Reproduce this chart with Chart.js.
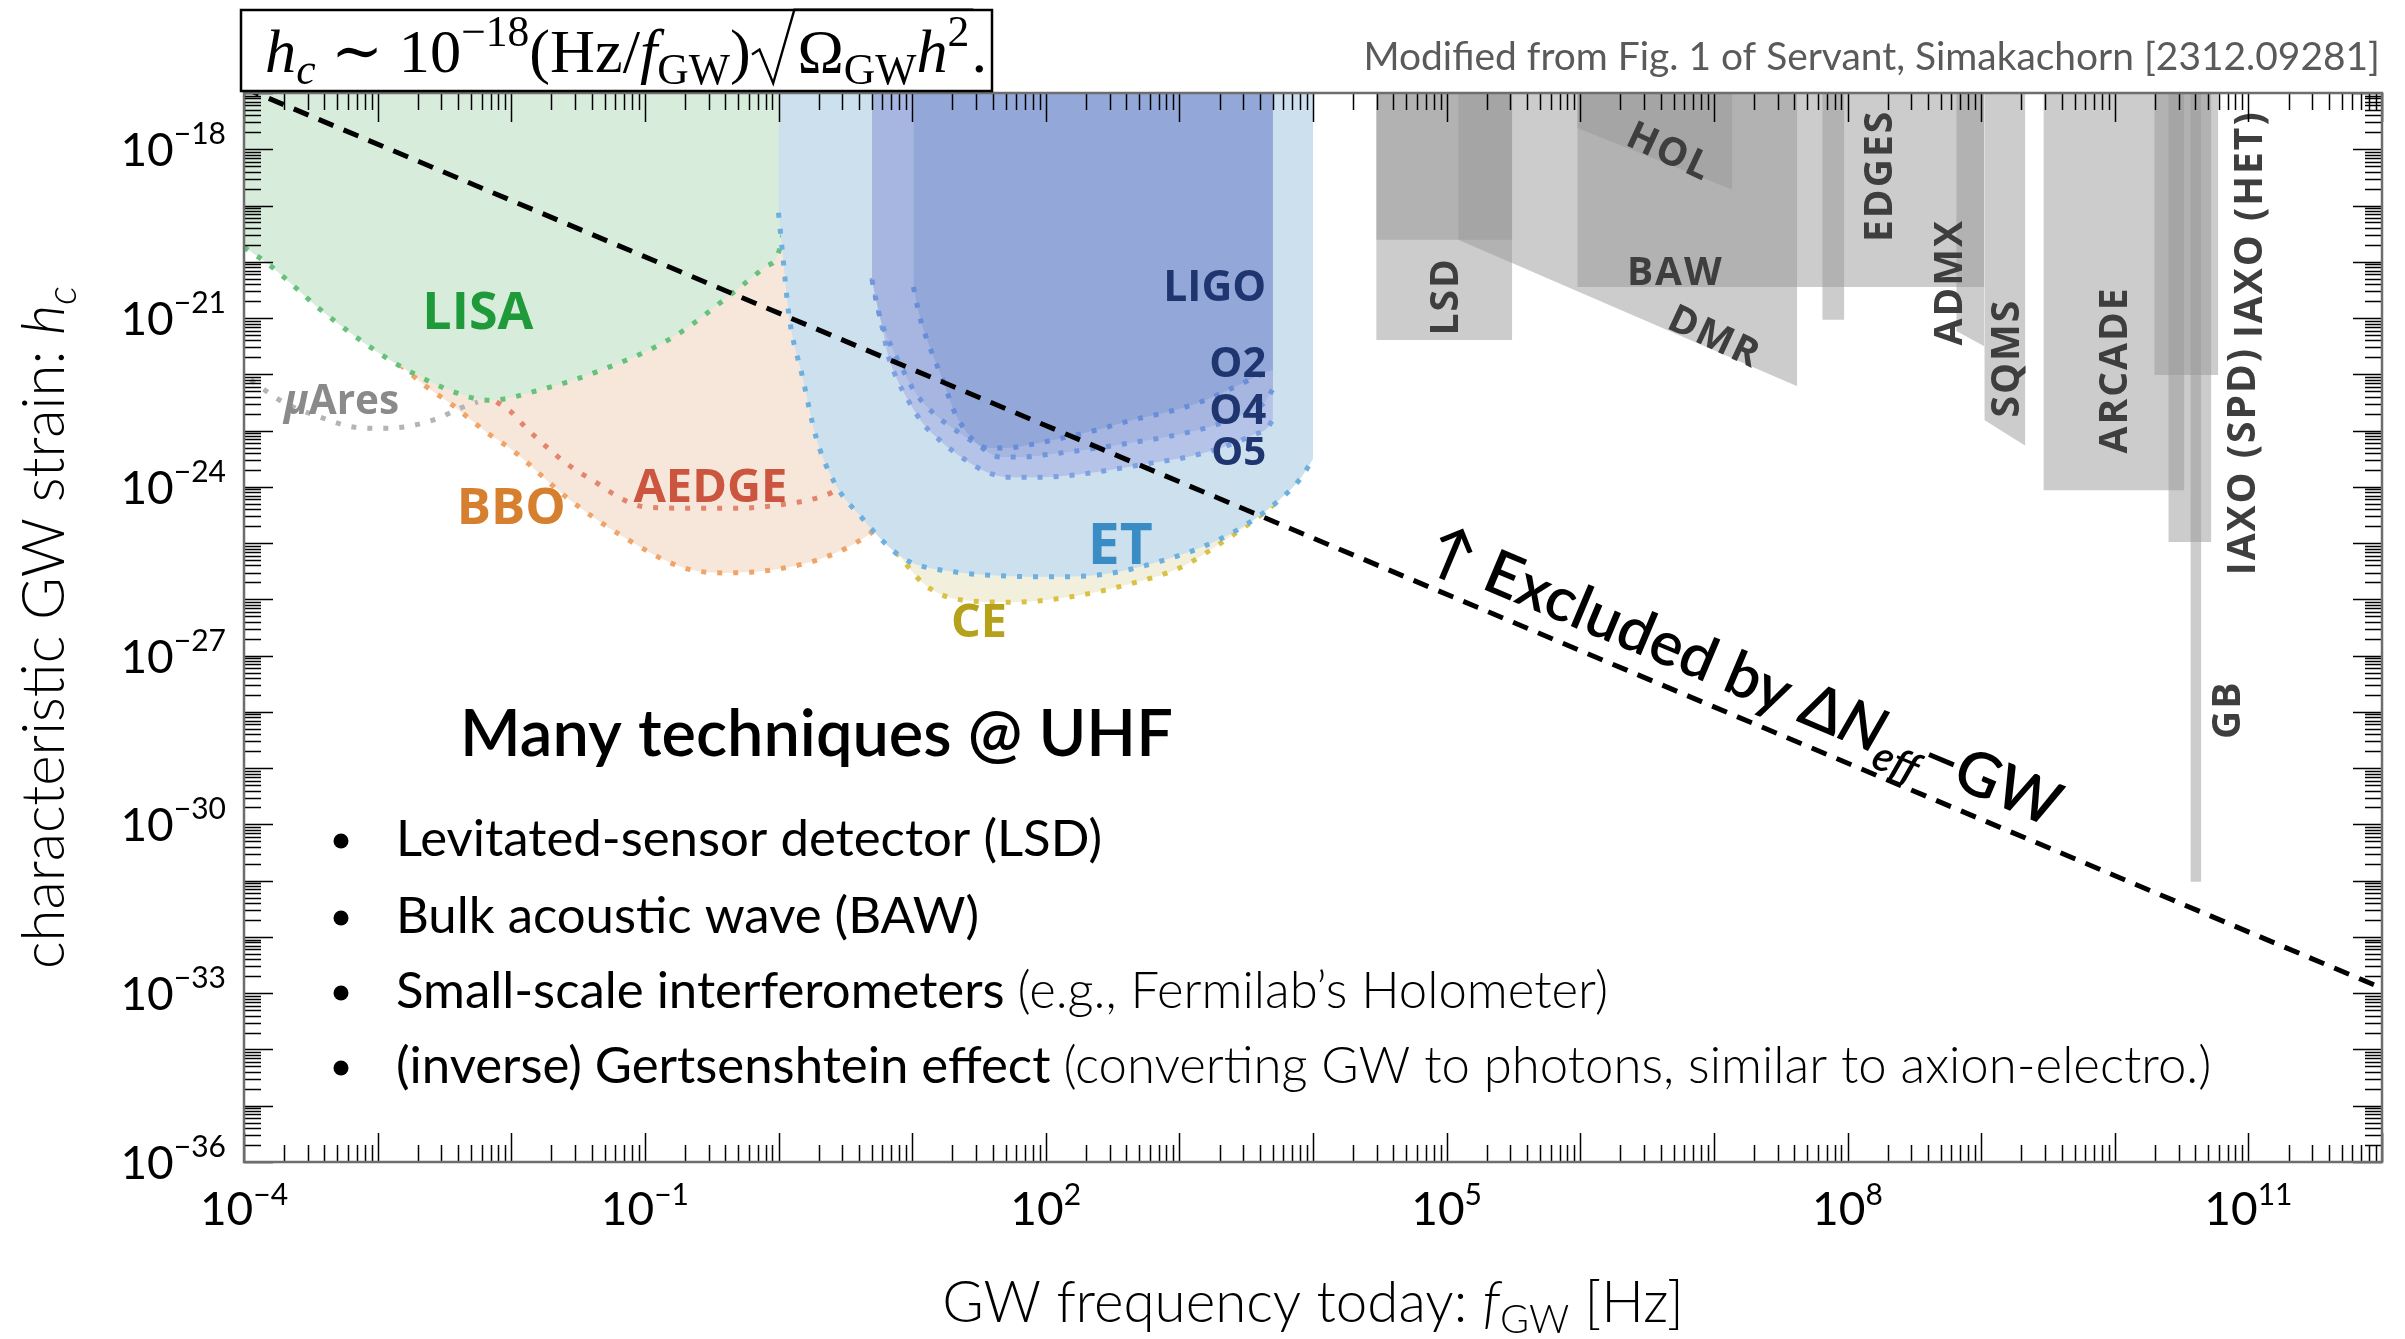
<!DOCTYPE html>
<html>
<head>
<meta charset="utf-8">
<title>Characteristic strain sensitivities</title>
<script src="https://cdn.jsdelivr.net/npm/chart.js@4.4.1/dist/chart.umd.min.js"></script>
<style>
  html, body { margin: 0; padding: 0; background: #ffffff; }
  canvas { display: block; }
</style>
</head>
<body>
<canvas id="chart" width="2405" height="1339"></canvas>
<script>
// Axis ranges, as powers of ten
const freqExpRange = [-4, 12];
const strainExpRange = [-36, -17];
const freqLabelExps = [-4, -1, 2, 5, 8, 11];
const strainLabelExps = [-18, -21, -24, -27, -30, -33, -36];

// Detector sensitivity curves: log10(f / Hz) and log10(h_c)
const lisaLogF = [-4.00, -3.83, -3.36, -2.82, -2.32, -2.16, -1.79, -1.32, -0.79, -0.33, -0.10, 0.00, 0.06, 0.09, 0.10];
const lisaLogH = [-19.74, -20.02, -20.98, -21.87, -22.40, -22.46, -22.28, -21.92, -21.34, -20.53, -20.09, -19.84, -19.00, -18.00, -17.00];

const muAresLogF = [-3.95, -3.71, -3.43, -3.17, -2.96, -2.76, -2.57, -2.38, -2.25];
const muAresLogH = [-22.10, -22.49, -22.76, -22.94, -22.96, -22.92, -22.80, -22.60, -22.49];

const bboLogF = [-2.83, -2.63, -2.46, -2.18, -1.99, -1.59, -1.16, -0.72, -0.42, -0.06, 0.35, 0.65, 0.90];
const bboLogH = [-21.83, -22.23, -22.51, -23.04, -23.35, -24.18, -24.89, -25.43, -25.53, -25.48, -25.25, -24.89, -24.40];

const aedgeLogF = [-2.11, -2.00, -1.91, -1.81, -1.59, -1.36, -1.16, -0.99, -0.65, -0.32, 0.01, 0.35, 0.55];
const aedgeLogH = [-22.49, -22.67, -22.90, -23.13, -23.58, -23.93, -24.23, -24.36, -24.38, -24.38, -24.32, -24.15, -23.90];

const etLogF = [0.00, 0.03, 0.08, 0.18, 0.28, 0.42, 0.62, 0.85, 0.99, 1.31, 1.65, 2.06, 2.45, 2.89, 3.17, 3.46, 3.74, 3.91, 4.00];
const etLogH = [-19.13, -19.84, -20.98, -22.05, -23.11, -23.93, -24.54, -25.12, -25.34, -25.51, -25.58, -25.60, -25.55, -25.30, -25.07, -24.73, -24.25, -23.84, -23.50];

const ceLogF = [0.88, 1.10, 1.37, 1.76, 2.17, 2.59, 3.03, 3.31, 3.60, 3.74];
const ceLogH = [-25.16, -25.75, -26.01, -26.05, -25.96, -25.75, -25.41, -25.00, -24.52, -24.25];

const ligoO2LogF = [1.01, 1.04, 1.07, 1.12, 1.17, 1.23, 1.31, 1.37, 1.46, 1.57, 1.71, 1.86, 2.13, 2.38, 2.65, 2.91, 3.16, 3.40, 3.63, 3.70];
const ligoO2LogH = [-20.45, -20.80, -21.09, -21.44, -21.75, -22.10, -22.63, -22.90, -23.17, -23.31, -23.31, -23.26, -23.13, -22.99, -22.81, -22.67, -22.49, -22.24, -21.98, -21.92];

const ligoO4LogF = [0.70, 0.73, 0.77, 0.84, 0.92, 1.02, 1.15, 1.30, 1.47, 1.66, 1.81, 2.03, 2.33, 2.63, 2.93, 3.23, 3.49, 3.64, 3.70];
const ligoO4LogH = [-20.32, -20.68, -21.07, -21.48, -21.87, -22.31, -22.67, -22.95, -23.22, -23.47, -23.47, -23.42, -23.33, -23.22, -23.10, -22.93, -22.70, -22.49, -22.26];

const ligoO5LogF = [0.70, 0.74, 0.78, 0.82, 0.89, 0.97, 1.08, 1.23, 1.38, 1.56, 1.73, 1.96, 2.21, 2.48, 2.78, 3.06, 3.33, 3.55, 3.66, 3.70];
const ligoO5LogH = [-20.29, -20.77, -21.21, -21.66, -22.10, -22.46, -22.87, -23.22, -23.49, -23.74, -23.83, -23.83, -23.79, -23.70, -23.58, -23.47, -23.29, -23.08, -22.95, -22.80];

// Delta N_eff bound on a GW background
const neffLogF = [-4, 12];
const neffLogH = [-16.91, -32.91];

// UHF proposals: lower edge of each excluded block (blocks reach the top of the plot)
const uhfNames = ['LSD', 'LSD', 'DMR', 'BAW', 'HOL', 'EDGES', 'ADMX', 'SQMS', 'ARCADE', 'IAXO (HET)', 'IAXO (SPD)', 'GB'];
const uhfLogF = [
  [4.473, 5.491], [4.473, 5.491], [5.087, 7.624], [5.978, 9.024], [5.978, 7.138], [7.811, 7.976],
  [8.814, 9.024], [9.024, 9.331], [9.466, 10.521], [10.296, 10.775], [10.401, 10.723], [10.566, 10.648]
];
const uhfLogH = [
  [-21.39, -21.39], [-19.61, -19.61], [-19.61, -22.21], [-20.45, -20.45], [-17.62, -18.72], [-21.03, -21.03],
  [-21.23, -21.50], [-22.81, -23.27], [-24.06, -24.06], [-22.01, -22.01], [-24.98, -24.98], [-31.02, -31.02]
];

// ---------------------------------------------------------------------------
const SANS = 'Lato, "Open Sans", "DejaVu Sans", sans-serif';
const BOLD = '"Open Sans", "DejaVu Sans", sans-serif';
const SERIF = '"Liberation Serif", "DejaVu Serif", serif';

const P = (fs, hs) => fs.map((f, i) => ({ x: Math.pow(10, f), y: Math.pow(10, hs[i]) }));
const dots = [5, 11];
const dotW = 5;

const layers = [];
uhfNames.forEach((name, i) => layers.push({
  label: name, data: P(uhfLogF[i], uhfLogH[i]), fill: 'end',
  backgroundColor: 'rgba(153,153,153,0.5)', borderWidth: 0, tension: 0
}));
layers.push({ label: 'BBO', data: P(bboLogF, bboLogH), fill: 'end', backgroundColor: '#f7e7da', borderColor: '#f0a468', borderDash: dots, borderWidth: dotW });
layers.push({ label: 'LISA', data: P(lisaLogF, lisaLogH), fill: 'end', backgroundColor: '#d8ecdc', borderColor: '#66c27a', borderDash: dots, borderWidth: dotW });
layers.push({ label: 'muAres', data: P(muAresLogF, muAresLogH), fill: false, borderColor: '#b4b4b4', borderDash: dots, borderWidth: dotW });
layers.push({ label: 'AEDGE', data: P(aedgeLogF, aedgeLogH), fill: false, borderColor: '#e3846f', borderDash: dots, borderWidth: dotW });
layers.push({ label: 'CE', data: P(ceLogF, ceLogH), fill: 'end', backgroundColor: '#f2efdc', borderColor: '#d8c246', borderDash: dots, borderWidth: dotW });
layers.push({ label: 'ET', data: P(etLogF, etLogH), fill: 'end', backgroundColor: '#cde0ee', borderColor: '#6cb0e0', borderDash: dots, borderWidth: dotW });
layers.push({ label: 'O5', data: P(ligoO5LogF, ligoO5LogH), fill: 'end', backgroundColor: '#b5c3e8', borderColor: '#7ca0e0', borderDash: dots, borderWidth: dotW });
layers.push({ label: 'O4', data: P(ligoO4LogF, ligoO4LogH), fill: 'end', backgroundColor: '#a6b6e0', borderColor: '#7097dc', borderDash: dots, borderWidth: dotW });
layers.push({ label: 'O2', data: P(ligoO2LogF, ligoO2LogH), fill: 'end', backgroundColor: '#93a8d9', borderColor: '#678dd8', borderDash: dots, borderWidth: dotW });
layers.push({ label: 'Neff', data: P(neffLogF, neffLogH), fill: false, borderColor: '#000000', borderDash: [16, 11], borderWidth: 5 });
// first entry sits at the bottom of the stack
layers.forEach((d, i) => {
  d.order = layers.length - i;
  d.pointRadius = 0;
  d.clip = 0;
  if (d.tension === undefined) { d.tension = 0.4; d.cubicInterpolationMode = 'monotone'; }
});

// ---------------------------------------------------------------------------
// text helpers
function richWidth(ctx, segs) {
  let w = 0;
  for (const s of segs) { ctx.font = s.font; w += ctx.measureText(s.t).width; }
  return w;
}
function drawRich(ctx, x, y, segs, align, color) {
  const w = richWidth(ctx, segs);
  let cx = align === 'center' ? x - w / 2 : align === 'right' ? x - w : x;
  ctx.textAlign = 'left';
  ctx.textBaseline = 'alphabetic';
  for (const s of segs) {
    ctx.font = s.font;
    ctx.fillStyle = s.color || color || '#000';
    ctx.fillText(s.t, cx, y + (s.dy || 0));
    cx += ctx.measureText(s.t).width;
  }
  return w;
}
function fitSize(ctx, make, target) {
  return 100 * target / richWidth(ctx, make(100));
}

// label placements
const regionText = [
  { t: 'LISA', f: -2.25, h: -20.86, c: '#1f9a3a', w: 111 },
  { t: 'BBO', f: -2.00, h: -24.34, c: '#d67f2e', w: 109 },
  { t: 'AEDGE', f: -0.51, h: -23.97, c: '#cc5540', w: 154 },
  { t: 'ET', f: 2.557, h: -25.00, c: '#3a8cc4', w: 65 },
  { t: 'CE', f: 1.50, h: -26.37, c: '#b5a11a', w: 56 }
];
const ligoText = [
  { t: 'LIGO', h: -20.43, w: 103 },
  { t: 'O2', h: -21.78, w: 57 },
  { t: 'O4', h: -22.62, w: 57 },
  { t: 'O5', h: -23.36, w: 55 }
];
const ligoTextRight = 3.65;
const uhfText = [
  { t: 'LSD', f: 4.982, h: -20.63, rot: -90 },
  { t: 'HOL', f: 6.666, h: -18.01, rot: 25 },
  { t: 'BAW', f: 6.704, h: -20.16, rot: 0 },
  { t: 'DMR', f: 7.003, h: -21.30, rot: 25 },
  { t: 'EDGES', f: 8.231, h: -18.49, rot: -90 },
  { t: 'ADMX', f: 8.754, h: -20.38, rot: -90 },
  { t: 'SQMS', f: 9.181, h: -21.73, rot: -90 },
  { t: 'ARCADE', f: 9.990, h: -21.94, rot: -90 },
  { t: 'IAXO (SPD)', f: 10.948, h: -23.56, rot: -90 },
  { t: 'IAXO (HET)', f: 11.00, h: -19.35, rot: -90 },
  { t: 'GB', f: 10.835, h: -27.98, rot: -90 }
];
const bulletLines = [
  [['Levitated-sensor detector (LSD)', 400]],
  [['Bulk acoustic wave (BAW)', 400]],
  [['Small-scale interferometers ', 400], ['(e.g., Fermilab\u2019s Holometer)', 300]],
  [['(inverse) Gertsenshtein effect ', 400], ['(converting GW to photons, similar to axion-electro.)', 300]]
];

const labelsPlugin = {
  id: 'regionLabels',
  afterDatasetsDraw(chart) {
    const { ctx, scales: { x, y } } = chart;
    const px = e => x.getPixelForValue(Math.pow(10, e));
    const py = e => y.getPixelForValue(Math.pow(10, e));
    ctx.save();
    // coloured detector names
    for (const r of regionText) {
      const size = fitSize(ctx, s => [{ t: r.t, font: `700 ${s}px ${BOLD}` }], r.w);
      ctx.font = `700 ${size}px ${BOLD}`;
      const asc = ctx.measureText(r.t).actualBoundingBoxAscent;
      drawRich(ctx, px(r.f), py(r.h) + asc / 2, [{ t: r.t, font: ctx.font }], 'center', r.c);
    }
    // muAres
    {
      const mk = s => [{ t: '\u03bc', font: `italic 700 ${s}px ${BOLD}` }, { t: 'Ares', font: `700 ${s}px ${BOLD}` }];
      const s = fitSize(ctx, mk, 115);
      ctx.font = `700 ${s}px ${BOLD}`;
      const asc = ctx.measureText('A').actualBoundingBoxAscent;
      drawRich(ctx, px(-3.27), py(-22.44) + asc / 2, mk(s), 'center', '#8a8a8a');
    }
    // LIGO runs
    for (const r of ligoText) {
      const size = fitSize(ctx, s => [{ t: r.t, font: `700 ${s}px ${BOLD}` }], r.w);
      ctx.font = `700 ${size}px ${BOLD}`;
      const asc = ctx.measureText(r.t).actualBoundingBoxAscent;
      drawRich(ctx, px(ligoTextRight), py(r.h) + asc / 2, [{ t: r.t, font: ctx.font }], 'right', '#1f3570');
    }
    // UHF proposals
    ctx.letterSpacing = '2px';
    ctx.fillStyle = '#3e3e3e';
    ctx.font = `700 39px ${BOLD}`;
    ctx.textAlign = 'center';
    ctx.textBaseline = 'alphabetic';
    for (const r of uhfText) {
      ctx.save();
      ctx.translate(px(r.f), py(r.h));
      ctx.rotate(r.rot * Math.PI / 180);
      const asc = ctx.measureText('A').actualBoundingBoxAscent;
      ctx.fillText(r.t, 1, asc / 2);
      ctx.restore();
    }
    ctx.letterSpacing = '0px';
    ctx.restore();
  }
};

const framePlugin = {
  id: 'frameAndText',
  afterDraw(chart) {
    const { ctx, chartArea: a, scales: { x, y } } = chart;
    ctx.save();
    // ticks on all four sides, pointing inward
    ctx.strokeStyle = '#000';
    ctx.lineWidth = 1.5;
    ctx.beginPath();
    for (let e = freqExpRange[0]; e <= freqExpRange[1]; e++) {
      for (let m = 1; m <= 9; m++) {
        if (e === freqExpRange[1] && m > 1) break;
        const p = Math.round(x.getPixelForValue(m * Math.pow(10, e))) + 0.5;
        const len = m === 1 ? 29 : 17;
        ctx.moveTo(p, a.bottom); ctx.lineTo(p, a.bottom - len);
        ctx.moveTo(p, a.top); ctx.lineTo(p, a.top + len);
      }
    }
    for (let e = strainExpRange[0]; e <= strainExpRange[1]; e++) {
      for (let m = 1; m <= 9; m++) {
        if (e === strainExpRange[1] && m > 1) break;
        const p = Math.round(y.getPixelForValue(m * Math.pow(10, e))) + 0.5;
        const len = m === 1 ? 29 : 17;
        ctx.moveTo(a.left, p); ctx.lineTo(a.left + len, p);
        ctx.moveTo(a.right, p); ctx.lineTo(a.right - len, p);
      }
    }
    ctx.stroke();
    ctx.strokeStyle = '#6e6e6e';
    ctx.lineWidth = 2.5;
    ctx.strokeRect(a.left, a.top, a.right - a.left, a.bottom - a.top);

    // tick labels
    const base = `400 46px ${SANS}`, sup = `400 30px ${SANS}`;
    for (const e of freqLabelExps) {
      const cx = x.getPixelForValue(Math.pow(10, e));
      const ex = (e < 0 ? '\u2212' : '') + Math.abs(e);
      drawRich(ctx, cx, a.bottom + 63, [{ t: '10', font: base }, { t: ex, font: sup, dy: -20 }], 'center', '#000');
    }
    for (const e of strainLabelExps) {
      const cy = y.getPixelForValue(Math.pow(10, e));
      const ex = (e < 0 ? '\u2212' : '') + Math.abs(e);
      drawRich(ctx, a.left - 18, cy + 17, [{ t: '10', font: base }, { t: ex, font: sup, dy: -22 }], 'right', '#000');
    }

    // axis titles
    const xt = s => [
      { t: 'GW frequency today: ', font: `300 ${s}px ${SANS}` },
      { t: 'f', font: `italic 300 ${s}px ${SANS}` },
      { t: 'GW', font: `300 ${0.7 * s}px ${SANS}`, dy: 0.2 * s },
      { t: ' [Hz]', font: `300 ${s}px ${SANS}` }
    ];
    drawRich(ctx, (a.left + a.right) / 2, 1322, xt(fitSize(ctx, xt, 742)), 'center', '#000');
    const yt = s => [
      { t: 'characteristic GW strain: ', font: `300 ${s}px ${SANS}` },
      { t: 'h', font: `italic 300 ${s}px ${SANS}` },
      { t: 'c', font: `italic 300 ${0.7 * s}px ${SANS}`, dy: 0.2 * s }
    ];
    ctx.save();
    ctx.translate(64, (a.top + a.bottom) / 2);
    ctx.rotate(-Math.PI / 2);
    drawRich(ctx, 0, 0, yt(fitSize(ctx, yt, 683)), 'center', '#000');
    ctx.restore();

    // credit line
    const cr = s => [{ t: 'Modified from Fig. 1 of Servant, Simakachorn [2312.09281]', font: `400 ${s}px ${SANS}` }];
    drawRich(ctx, 2380, 70, cr(fitSize(ctx, cr, 1017)), 'right', '#5a5a5a');

    // boxed estimate of h_c
    ctx.fillStyle = '#fff';
    ctx.fillRect(241, 10, 751, 81);
    ctx.strokeStyle = '#000';
    ctx.lineWidth = 2.5;
    ctx.strokeRect(241, 10, 751, 81);
    const fparts = s => {
      const it = `italic ${s}px ${SERIF}`, rm = `${s}px ${SERIF}`;
      const sm = `${0.7 * s}px ${SERIF}`, smi = `italic ${0.7 * s}px ${SERIF}`;
      const sub = 0.2 * s, sp = -0.42 * s;
      return {
        pre: [{ t: 'h', font: it }, { t: 'c', font: smi, dy: sub }, { t: ' \u223c ', font: rm }, { t: '10', font: rm },
              { t: '\u221218', font: sm, dy: sp }, { t: '(Hz/', font: rm }, { t: 'f', font: it },
              { t: 'GW', font: sm, dy: sub }, { t: ')', font: rm }],
        body: [{ t: '\u03a9', font: rm }, { t: 'GW', font: sm, dy: sub }, { t: 'h', font: it }, { t: '2', font: sm, dy: sp }],
        post: [{ t: '.', font: rm }],
        rad: 0.75 * s
      };
    };
    const fw = s => { const q = fparts(s); return richWidth(ctx, q.pre) + q.rad + richWidth(ctx, q.body) + richWidth(ctx, q.post); };
    const fs = 100 * 720 / fw(100);
    const q = fparts(fs);
    const by = 72;
    let cx = 265;
    cx += drawRich(ctx, cx, by, q.pre, 'left', '#000');
    const bw = richWidth(ctx, q.body);
    ctx.strokeStyle = '#000';
    ctx.lineWidth = 2.4;
    ctx.beginPath();
    ctx.moveTo(cx + 0.02 * fs, by - 0.28 * fs);
    ctx.lineTo(cx + 0.14 * fs, by - 0.36 * fs);
    ctx.lineTo(cx + 0.36 * fs, by + 0.18 * fs);
    ctx.lineTo(cx + 0.70 * fs, by - 1.0 * fs);
    ctx.lineTo(cx + q.rad + bw + 4, by - 1.0 * fs);
    ctx.stroke();
    cx += q.rad;
    cx += drawRich(ctx, cx, by, q.body, 'left', '#000');
    drawRich(ctx, cx + 2, by, q.post, 'left', '#000');

    // heading and list
    const hd = s => [{ t: 'Many techniques @ UHF', font: `600 ${s}px ${SANS}` }];
    drawRich(ctx, 460, 756, hd(fitSize(ctx, hd, 713)), 'left', '#000');
    const lineSegs = (line, s) => line.map(([t, w]) => ({ t, font: `${w} ${s}px ${SANS}` }));
    const bs = fitSize(ctx, s => lineSegs(bulletLines[3], s), 1816);
    const rows = [841, 918, 993, 1068];
    bulletLines.forEach((line, i) => {
      ctx.fillStyle = '#000';
      ctx.beginPath();
      ctx.arc(341, rows[i], 7.5, 0, 2 * Math.PI);
      ctx.fill();
      drawRich(ctx, 396, rows[i] + 15, lineSegs(line, bs), 'left', '#000');
    });

    // label along the Delta N_eff line
    const p0x = x.getPixelForValue(Math.pow(10, neffLogF[0])), p0y = y.getPixelForValue(Math.pow(10, neffLogH[0]));
    const p1x = x.getPixelForValue(Math.pow(10, neffLogF[1])), p1y = y.getPixelForValue(Math.pow(10, neffLogH[1]));
    const ang = Math.atan2(p1y - p0y, p1x - p0x);
    const ax = x.getPixelForValue(Math.pow(10, 4.77));
    const ay = p0y + (ax - p0x) * (p1y - p0y) / (p1x - p0x);
    const ex = s => [
      { t: '\u2191 Excluded by \u0394', font: `600 ${s}px ${SANS}` },
      { t: 'N', font: `italic 600 ${s}px ${SANS}` },
      { t: 'eff', font: `italic 600 ${0.68 * s}px ${SANS}`, dy: 0.22 * s },
      { t: '\u2212GW', font: `600 ${s}px ${SANS}` }
    ];
    ctx.save();
    ctx.translate(ax, ay);
    ctx.rotate(ang);
    drawRich(ctx, 0, -19, ex(fitSize(ctx, ex, 680)), 'left', '#000');
    ctx.restore();

    ctx.restore();
  }
};

new Chart(document.getElementById('chart'), {
  type: 'scatter',
  data: { datasets: layers.map(d => Object.assign({ showLine: true }, d)) },
  options: {
    responsive: false,
    devicePixelRatio: 1,
    animation: false,
    events: [],
    layout: { padding: { left: 244, top: 93, right: 23, bottom: 177 } },
    plugins: { legend: { display: false }, tooltip: { enabled: false }, filler: { propagate: false } },
    scales: {
      x: { type: 'logarithmic', min: Math.pow(10, freqExpRange[0]), max: Math.pow(10, freqExpRange[1]), display: false },
      y: { type: 'logarithmic', min: Math.pow(10, strainExpRange[0]), max: Math.pow(10, strainExpRange[1]), display: false }
    }
  },
  plugins: [labelsPlugin, framePlugin]
});
</script>
</body>
</html>
